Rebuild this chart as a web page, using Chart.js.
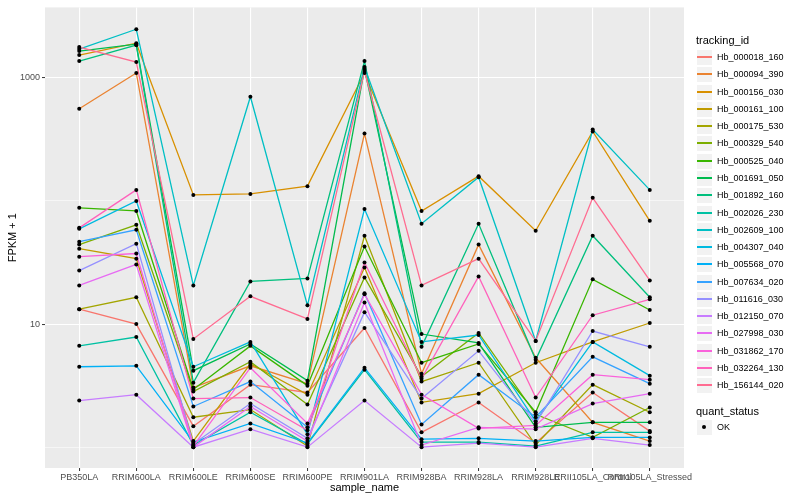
<!DOCTYPE html>
<html>
<head>
<meta charset="utf-8">
<script src="https://cdn.jsdelivr.net/npm/chart.js@4.4.1/dist/chart.umd.min.js"></script>
<style>
  body { margin: 0; background: #fff; }
  #wrap { position: relative; width: 800px; height: 500px; font-family: "Liberation Sans", Arial, sans-serif; }
  #legend { position: absolute; left: 696px; top: 0; width: 104px; height: 500px; }
  .ttl { position: absolute; left: 0; font-size: 11px; color: #000; white-space: nowrap; line-height: 1; }
  .item { position: absolute; left: 0; height: 17px; width: 104px; }
  .key { position: absolute; left: 0; top: 0; width: 15px; height: 15px; background: #f2f2f2; border: 1px solid #fff; }
  .key i { position: absolute; left: 0; right: 0; top: 6px; height: 2px; display: block; }
  .key b { position: absolute; left: 5px; top: 5px; width: 4px; height: 4px; border-radius: 2px; background: #000; display: block; }
  .lab { position: absolute; left: 21px; top: 4px; font-size: 9px; color: #000; line-height: 1; white-space: nowrap; }
</style>
</head>
<body>
<div id="wrap">
  <canvas id="chart" width="800" height="500"></canvas>
  <div id="legend"></div>
</div>
<script>
// categorias del eje x
const sampleNames = ['PB350LA', 'RRIM600LA', 'RRIM600LE', 'RRIM600SE', 'RRIM600PE', 'RRIM901LA',
    'RRIM928BA', 'RRIM928LA', 'RRIM928LE', 'RRII105LA_Control', 'RRII105LA_Stressed'];

// ticks del eje y (log)
const yTickValues = [1, 10, 100, 1000];
const yTickLabels = ['', '10', '', '1000'];

// FPKM + 1 por gen
const hb_000018_160 = [13.2, 10, 1.48, 3.22, 2.78, 9.29, 1.32, 2.31, 1.08, 2.78, 1.35];
const hb_000094_390 = [562, 1097, 3.05, 4.58, 3.28, 353, 3.95, 44.2, 5.32, 1.59, 1.12];
const hb_000156_030 = [1531, 1915, 112, 114, 132, 1097, 83.0, 159, 57.3, 367, 69.0];
const hb_000161_100 = [41.0, 34.0, 1.12, 4.76, 2.67, 28.8, 2.31, 2.72, 4.85, 7.16, 10.2];
const hb_000175_530 = [13.2, 16.5, 1.75, 2.02, 1.02, 52.2, 3.41, 4.85, 1.04, 3.22, 1.92];
const hb_000329_540 = [44.2, 64.0, 2.83, 4.94, 2.22, 23.9, 3.74, 8.46, 1.85, 1.20, 2.10];
const hb_000525_040 = [87.9, 83.0, 2.94, 6.65, 3.16, 42.6, 4.85, 6.90, 1.92, 23.1, 13.0];
const hb_001691_050 = [1651, 1880, 4.18, 6.90, 3.47, 1183, 8.30, 7.03, 1.45, 1.59, 1.59];
const hb_001892_160 = [1371, 1845, 3.34, 22.2, 23.5, 1371, 6.53, 65.3, 5.12, 52.2, 16.5];
const hb_002026_230 = [6.65, 7.85, 1.04, 1.92, 1.06, 4.26, 1.10, 1.10, 1.02, 1.32, 1.32];
const hb_002609_100 = [1714, 2484, 20.6, 703, 14.2, 1227, 65.3, 156, 7.29, 381, 123];
const hb_004307_040 = [59.4, 100, 4.50, 7.16, 1.27, 86.1, 7.16, 8.15, 1.62, 7.16, 3.81];
const hb_005568_070 = [4.50, 4.58, 1.10, 1.56, 1.08, 4.42, 1.16, 1.18, 1.12, 1.20, 1.20];
const hb_007634_020 = [46.7, 58.3, 2.14, 3.41, 1.45, 17.8, 1.53, 3.88, 1.75, 5.42, 3.28];
const hb_011616_030 = [27.2, 45.0, 1.06, 2.26, 1.18, 12.5, 2.48, 6.06, 1.56, 8.78, 6.53];
const hb_012150_070 = [2.39, 2.67, 1.00, 1.40, 1.00, 2.39, 1.00, 1.08, 1.00, 1.18, 1.04];
const hb_027998_030 = [20.6, 30.5, 1.00, 2.14, 1.12, 15.0, 1.04, 1.45, 1.40, 2.26, 2.72];
const hb_031862_170 = [35.3, 37.4, 1.02, 4.42, 1.56, 17.5, 2.67, 1.42, 1.50, 3.88, 3.53];
const hb_032264_130 = [60.5, 123, 2.48, 2.53, 1.37, 31.6, 3.60, 24.4, 2.53, 11.8, 15.9];
const hb_156144_020 = [1778, 1346, 7.57, 16.8, 11.0, 1138, 20.6, 34.0, 7.29, 106, 22.6];

const trackingIds = ['Hb_000018_160', 'Hb_000094_390', 'Hb_000156_030', 'Hb_000161_100', 'Hb_000175_530',
    'Hb_000329_540', 'Hb_000525_040', 'Hb_001691_050', 'Hb_001892_160', 'Hb_002026_230',
    'Hb_002609_100', 'Hb_004307_040', 'Hb_005568_070', 'Hb_007634_020', 'Hb_011616_030',
    'Hb_012150_070', 'Hb_027998_030', 'Hb_031862_170', 'Hb_032264_130', 'Hb_156144_020'];
const seriesValues = [hb_000018_160, hb_000094_390, hb_000156_030, hb_000161_100, hb_000175_530,
    hb_000329_540, hb_000525_040, hb_001691_050, hb_001892_160, hb_002026_230,
    hb_002609_100, hb_004307_040, hb_005568_070, hb_007634_020, hb_011616_030,
    hb_012150_070, hb_027998_030, hb_031862_170, hb_032264_130, hb_156144_020];
const seriesColors = ['#F8766D', '#EA8331', '#D89000', '#C09B00', '#A3A500', '#7CAE00', '#39B600',
    '#00BB4E', '#00BF7D', '#00C1A3', '#00BFC4', '#00BAE0', '#00B0F6', '#35A2FF', '#9590FF',
    '#C77CFF', '#E76BF3', '#FA62DB', '#FF62BC', '#FF6C91'];

const fontFam = '"Liberation Sans", Arial, sans-serif';

// lineas: el ultimo gen queda encima (como ggplot)
const lineSets = seriesValues.map((vals, k) => ({
    label: trackingIds[k],
    data: vals.map((v, i) => ({ x: i, y: v })),
    borderColor: seriesColors[k],
    backgroundColor: seriesColors[k],
    borderWidth: 1.3,
    pointRadius: 0,
    tension: 0,
    fill: false,
    order: seriesValues.length - k
}));

// puntos negros encima de todas las lineas
const pointSet = {
    label: 'OK',
    type: 'scatter',
    data: seriesValues.flatMap(vals => vals.map((v, i) => ({ x: i, y: v }))),
    backgroundColor: '#000',
    borderWidth: 0,
    pointRadius: 2,
    showLine: false,
    order: -1
};

const panelBg = {
    id: 'panelBg',
    beforeDraw(chart) {
        const a = chart.chartArea;
        const c = chart.ctx;
        c.save();
        c.fillStyle = '#EBEBEB';
        c.fillRect(a.left, a.top, a.right - a.left, a.bottom - a.top);
        c.restore();
    }
};

const isMajor = v => v === 10 || v === 1000;

new Chart(document.getElementById('chart').getContext('2d'), {
    type: 'line',
    data: { datasets: [...lineSets, pointSet] },
    options: {
        responsive: false,
        animation: false,
        events: [],
        layout: { padding: { top: 4, right: 116, bottom: 0, left: 0 } },
        plugins: { legend: { display: false }, tooltip: { enabled: false } },
        scales: {
            x: {
                type: 'linear',
                min: -0.6,
                max: sampleNames.length - 0.4,
                afterBuildTicks: s => { s.ticks = sampleNames.map((n, i) => ({ value: i })); },
                afterFit: s => { s.height = 32; },
                grid: { color: '#FFFFFF', lineWidth: 1.1, tickColor: '#333333', tickLength: 3, tickWidth: 1 },
                border: { display: false },
                ticks: {
                    autoSkip: false, maxRotation: 0, minRotation: 0, padding: 1,
                    color: '#4D4D4D', font: { family: fontFam, size: 9 },
                    callback: v => sampleNames[v]
                },
                title: {
                    display: true, text: 'sample_name', color: '#000',
                    font: { family: fontFam, size: 11 }, padding: { top: 0, bottom: 5 }
                }
            },
            y: {
                type: 'logarithmic',
                min: 0.677,
                max: 3738,
                afterBuildTicks: s => { s.ticks = yTickValues.map(v => ({ value: v, major: isMajor(v) })); },
                afterFit: s => { s.width = 45; },
                grid: {
                    color: '#FFFFFF',
                    lineWidth: c => (c.tick && isMajor(c.tick.value)) ? 1.1 : 0.55,
                    tickColor: c => (c.tick && isMajor(c.tick.value)) ? '#333333' : 'rgba(0,0,0,0)',
                    tickLength: 3, tickWidth: 1
                },
                border: { display: false },
                ticks: {
                    padding: 2, color: '#4D4D4D', font: { family: fontFam, size: 9 },
                    callback: v => yTickLabels[yTickValues.indexOf(v)] || ''
                },
                title: {
                    display: true, text: 'FPKM + 1', color: '#000',
                    font: { family: fontFam, size: 11 }, padding: { top: 6, bottom: 0 }
                }
            }
        }
    },
    plugins: [panelBg]
});

// leyenda estilo ggplot
const legend = document.getElementById('legend');
let html = '<div class="ttl" style="top:35px">tracking_id</div>';
trackingIds.forEach((id, k) => {
    const top = Math.round(49 + k * 17.28);
    html += '<div class="item" style="top:' + top + 'px"><div class="key"><i style="background:' +
        seriesColors[k] + '"></i></div><div class="lab">' + id + '</div></div>';
});
html += '<div class="ttl" style="top:406px">quant_status</div>';
html += '<div class="item" style="top:419px"><div class="key"><b></b></div><div class="lab">OK</div></div>';
legend.innerHTML = html;
</script>
</body>
</html>
